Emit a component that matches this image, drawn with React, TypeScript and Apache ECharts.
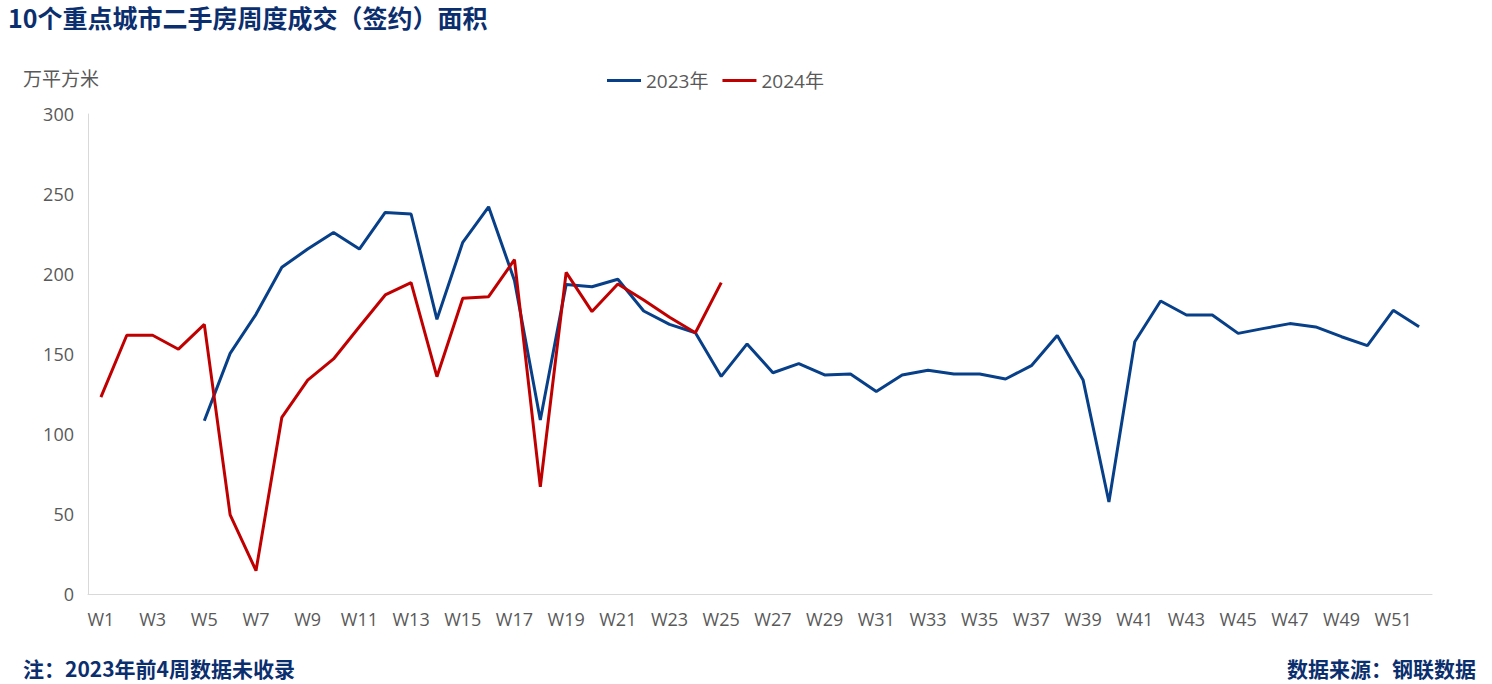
import React, { useEffect, useRef } from "react";
import * as echarts from "echarts";

const weeks: string[] = Array.from({ length: 52 }, (_, i) => `W${i + 1}`);

const series2023: (number | null)[] = [
  null, null, null, null, 108.3, 150.4, 174.8, 204.2, 215.6, 226,
  215.6, 238.5, 237.5, 171.7, 219.8, 242, 196, 108.8, 193.5, 192,
  196.7, 176.9, 168.5, 163.3, 136, 156.3, 138.3, 144, 136.9, 137.5,
  126.5, 136.9, 139.8, 137.5, 137.5, 134.4, 142.7, 161.5, 133.8, 57.5,
  157.7, 183.1, 174.4, 174.4, 162.9, 166, 169, 166.9, 160.8, 155.2,
  177.3, 167,
];

const series2024: number[] = [
  123, 161.7, 161.7, 153, 168.5, 49.4, 14.6, 110.4, 133.7, 146.9,
  167, 186.9, 194.6, 135.8, 184.8, 185.8, 209, 67, 201, 176.5,
  193.8, 183.8, 173, 163.3, 194.6,
];

const yTicks = [0, 50, 100, 150, 200, 250, 300];

const TITLE = "10个重点城市二手房周度成交（签约）面积";
const UNIT = "万平方米";
const NOTE = "注：2023年前4周数据未收录";
const SOURCE = "数据来源：钢联数据";

const BLUE = "#073f88";
const RED = "#c00000";
const TEXT_GRAY = "#595959";
const DARK_BLUE = "#0b2f6e";

export default function App() {
  const ref = useRef<HTMLDivElement>(null);
  useEffect(() => {
    if (!ref.current) return;
    const chart = echarts.init(ref.current, undefined, { renderer: "svg" });
    chart.setOption({
      animation: false,
      backgroundColor: "#ffffff",
      title: [
        {
          text: TITLE,
          left: 8,
          top: 3,
          padding: 0,
          textStyle: {
            fontFamily: "Noto Sans CJK SC",
            fontWeight: "bold",
            fontSize: 25,
            lineHeight: 28,
            color: DARK_BLUE,
          },
        },
        {
          text: UNIT,
          left: 23,
          top: 66,
          padding: 0,
          textStyle: {
            fontFamily: "Noto Sans CJK SC",
            fontWeight: "normal",
            fontSize: 19,
            lineHeight: 22,
            color: TEXT_GRAY,
          },
        },
        {
          text: NOTE,
          left: 23,
          top: 656,
          padding: 0,
          textStyle: {
            fontFamily: "Noto Sans CJK SC",
            fontWeight: "bold",
            fontSize: 21,
            lineHeight: 24,
            color: DARK_BLUE,
          },
        },
        {
          text: SOURCE,
          right: 16,
          top: 656,
          padding: 0,
          textStyle: {
            fontFamily: "Noto Sans CJK SC",
            fontWeight: "bold",
            fontSize: 21,
            lineHeight: 24,
            color: DARK_BLUE,
          },
        },
      ],
      legend: {
        top: 66,
        left: 602,
        itemWidth: 34,
        itemHeight: 3,
        itemGap: 14,
        icon: "rect",
        textStyle: {
          fontFamily: "Open Sans, Noto Sans CJK SC",
          fontSize: 19,
          color: TEXT_GRAY,
        },
        data: ["2023年", "2024年"],
      },
      grid: {
        left: 88,
        right: 60,
        top: 114,
        bottom: 90,
        containLabel: false,
      },
      xAxis: {
        type: "category",
        data: weeks,
        boundaryGap: true,
        axisLine: { show: true, lineStyle: { color: "#d9d9d9", width: 1 } },
        axisTick: { show: false },
        axisLabel: {
          interval: 1,
          fontFamily: "Open Sans, sans-serif",
          fontSize: 18,
          color: TEXT_GRAY,
          margin: 16,
        },
        splitLine: { show: false },
      },
      yAxis: {
        type: "value",
        min: yTicks[0],
        max: yTicks[yTicks.length - 1],
        interval: 50,
        axisLine: { show: true, lineStyle: { color: "#d9d9d9", width: 1 } },
        axisTick: { show: false },
        axisLabel: {
          fontFamily: "Open Sans, sans-serif",
          fontSize: 18,
          color: TEXT_GRAY,
          margin: 14,
        },
        splitLine: { show: false },
      },
      series: [
        {
          name: "2023年",
          type: "line",
          data: series2023,
          symbol: "none",
          connectNulls: false,
          lineStyle: { color: BLUE, width: 3 },
          itemStyle: { color: BLUE },
          z: 2,
        },
        {
          name: "2024年",
          type: "line",
          data: series2024,
          symbol: "none",
          lineStyle: { color: RED, width: 3 },
          itemStyle: { color: RED },
          z: 3,
        },
      ],
    });
    return () => chart.dispose();
  }, []);
  return (
    <div
      ref={ref}
      style={{ width: 1492, height: 684, position: "absolute", left: 0, top: 0 }}
    />
  );
}
